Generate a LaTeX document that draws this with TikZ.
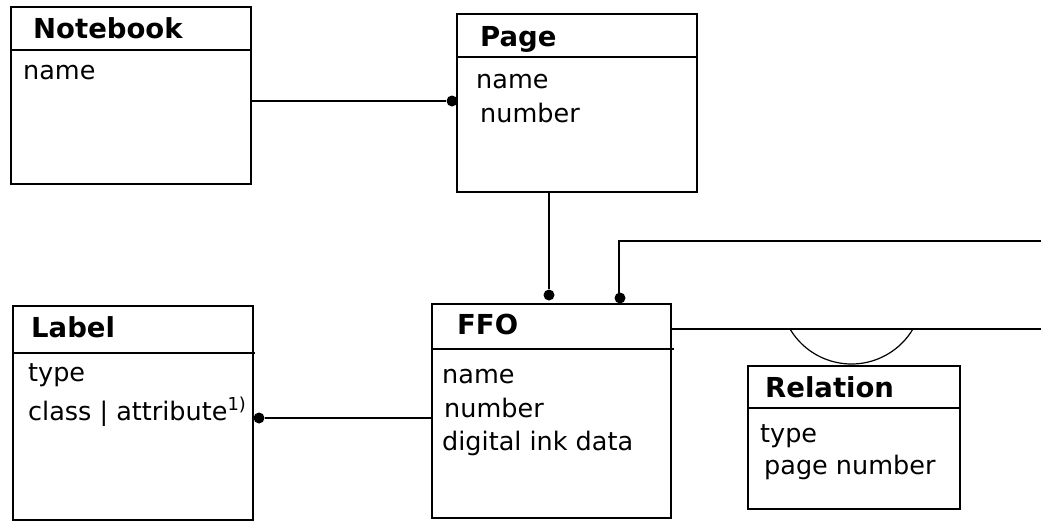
\documentclass[tikz,border=0pt]{standalone}
\usepackage{fontspec}
\setmainfont{DejaVu Sans}
\usetikzlibrary{positioning}
\tikzset{box/.style = {draw, line width = 2.4, inner sep = 0, anchor = north west}}
\tikzset{head/.style = {font = \fontsize{27.5}{30}\selectfont\bfseries, anchor = base west, inner sep = 0}}
\tikzset{attr/.style = {font = \fontsize{25.5}{30}\selectfont, anchor = base west, inner sep = 0}}
\tikzset{rule/.style = {line width = 2.4}}
\tikzset{link/.style = {line width = 2.2}}
\tikzset{circ/.style = {fill, circle, inner sep = 0, minimum size = 11}}

\begin{document}
\begin{tikzpicture}[x=1pt, y=-1pt]
    \useasboundingbox (0, 0) rectangle (1041, 520);

    % Notebook
    \node [box, minimum width = 240, minimum height = 177] (notebook) at (10, 6) {};
    \node [head] (notebook head) at (33, 38) {Notebook};
    \draw [rule] (notebook.west |- 0, 50) -- (notebook.east |- 0, 50);
    \node [attr] (notebook name) at (23, 79) {name};

    % Page
    \node [box, minimum width = 240, minimum height = 178] (page) at (456, 13) {};
    \node [head] (page head) at (480, 46) {Page};
    \draw [rule] (page.west |- 0, 57) -- (page.east |- 0, 57);
    \node [attr] (page name) at (476, 88) {name};
    \node [attr] (page number) at (480, 122) {number};

    % Label
    \node [box, minimum width = 240, minimum height = 214] (label) at (12, 305) {};
    \node [head] (label head) at (31, 337) {Label};
    \draw [rule] (label.west |- 0, 353) -- ([xshift = 1] label.east |- 0, 353);
    \node [attr] (label type) at (28, 381) {type};
    \node [attr] (label class) at (28, 420) {class | attribute\textsuperscript{1)}};

    % FFO
    \node [box, minimum width = 239, minimum height = 214] (ffo) at (431, 303) {};
    \node [head] (ffo head) at (457, 334) {FFO};
    \draw [rule] (ffo.west |- 0, 349) -- ([xshift = 2] ffo.east |- 0, 349);
    \node [attr] (ffo name) at (442, 383) {name};
    \node [attr] (ffo number) at (444, 417) {number};
    \node [attr] (ffo ink) at (442, 450) {digital ink data};

    % Relation
    \node [box, minimum width = 212, minimum height = 143] (relation) at (747, 365) {};
    \node [head] (relation head) at (765, 397) {Relation};
    \draw [rule] (relation.west |- 0, 408) -- (relation.east |- 0, 408);
    \node [attr] (relation type) at (760, 442) {type};
    \node [attr] (relation page) at (764, 474) {page number};

    % connectors
    \node [circ] (page dot) at (452, 101) {};
    \node [circ] (ffo dot a) at (549, 295) {};
    \node [circ] (ffo dot b) at (620, 298) {};
    \node [circ] (label dot) at (259, 418) {};
    \coordinate (upper end) at (1041, 241);
    \coordinate (lower end) at (1041, 329);

    \draw [link] (notebook.east |- page dot) -- (page dot);
    \draw [link] (ffo dot a |- page.south) -- (ffo dot a);
    \draw [link] (label dot) -- (label dot -| ffo.west);
    \draw [link] ([xshift = -1] ffo dot b.center) |- (upper end);
    \draw [link] (ffo.east |- lower end) -- (lower end);

    \draw [line width = 1.2] (790, 329) arc [start angle = 149.3, end angle = 30.7, radius = 71.5];
  \end{tikzpicture}
\end{document}
